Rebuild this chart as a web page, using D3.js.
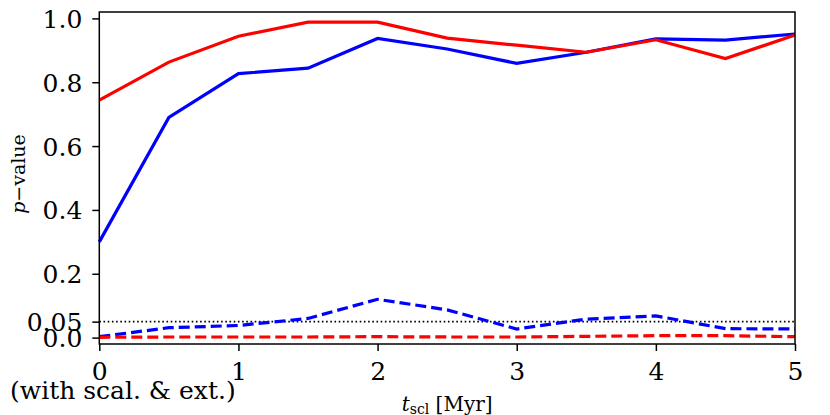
<!DOCTYPE html>
<html><head><meta charset="utf-8">
<script src="https://cdn.jsdelivr.net/npm/d3@7"></script>
<style>body{margin:0;background:#fff}text{font-family:"DejaVu Serif",serif;fill:#000}</style>
</head><body><svg id="c" width="830" height="415"></svg>
<script>
const tValues = [0, 0.5, 1, 1.5, 2, 2.5, 3, 3.5, 4, 4.5, 5];
const redSolid  = [0.744, 0.863, 0.944, 0.988, 0.988, 0.938, 0.916, 0.894, 0.933, 0.874, 0.948];
const blueSolid = [0.300, 0.690, 0.827, 0.844, 0.937, 0.904, 0.859, 0.894, 0.936, 0.932, 0.951];
const blueDashed = [0.003, 0.031, 0.038, 0.060, 0.120, 0.087, 0.027, 0.058, 0.068, 0.028, 0.027];
const redDashed  = [0.001, 0.002, 0.002, 0.002, 0.003, 0.002, 0.002, 0.004, 0.006, 0.006, 0.003];
const yTicks = [0.0, 0.05, 0.2, 0.4, 0.6, 0.8, 1.0];
const yTickLabels = ["0.0", "0.05", "0.2", "0.4", "0.6", "0.8", "1.0"];
const xTicks = [0, 1, 2, 3, 4, 5];
const threshold = 0.05;

const svg = d3.select("#c");
const L = 99.3, R = 795, T = 12, B = 344;
const x = d3.scaleLinear().domain([0, 5]).range([L, R]);
const y = d3.scaleLinear().domain([-0.02, 1.02]).range([B, T]);

const line = d3.line().x((d, i) => x(tValues[i])).y(d => y(d));

svg.append("line").attr("x1", x(0)).attr("x2", x(5)).attr("y1", y(threshold)).attr("y2", y(threshold))
  .attr("stroke", "#000").attr("stroke-width", 1.6).attr("stroke-dasharray", "1.6,2.6");

const series = [
  {v: blueDashed, c: "#0000ff", dash: "11,5"},
  {v: redDashed, c: "#ff0000", dash: "11,5"},
  {v: blueSolid, c: "#0000ff", dash: null},
  {v: redSolid, c: "#ff0000", dash: null}
];
series.forEach(s => {
  svg.append("path").attr("d", line(s.v)).attr("fill", "none")
    .attr("stroke", s.c).attr("stroke-width", 3.2)
    .attr("stroke-dasharray", s.dash);
});

svg.append("rect").attr("x", L).attr("y", T).attr("width", R - L).attr("height", B - T)
  .attr("fill", "none").attr("stroke", "#000").attr("stroke-width", 1.5);

const yAxis = d3.axisLeft(y).tickValues(yTicks).tickFormat((d, i) => yTickLabels[i]).tickSize(7).tickPadding(10);
const gy = svg.append("g").attr("transform", `translate(${L},0)`).call(yAxis);
const xAxis = d3.axisBottom(x).tickValues(xTicks).tickFormat(d3.format("d")).tickSize(7).tickPadding(10);
const gx = svg.append("g").attr("transform", `translate(0,${B})`).call(xAxis);
[gy, gx].forEach(g => {
  g.select(".domain").remove();
  g.selectAll(".tick line").attr("stroke", "#000").attr("stroke-width", 1.5);
  g.selectAll(".tick text").attr("font-size", 25).attr("font-family", "DejaVu Serif");
});
gy.selectAll(".tick text").attr("dy", "0.36em");
gx.selectAll(".tick text").attr("dy", "0.74em");

svg.append("text").attr("x", 10).attr("y", 399).attr("font-size", 25).text("(with scal. & ext.)");

const xl = svg.append("text").attr("x", (L + R) / 2).attr("y", 411).attr("text-anchor", "middle").attr("font-size", 20);
xl.append("tspan").attr("font-style", "italic").text("t");
xl.append("tspan").attr("font-size", 14).attr("dy", 3).text("scl");
xl.append("tspan").attr("dy", -3).text(" [Myr]");

const yl = svg.append("text").attr("transform", `translate(25,174) rotate(-90)`).attr("text-anchor", "middle").attr("font-size", 19);
yl.append("tspan").attr("font-style", "italic").text("p");
yl.append("tspan").text("−value");
</script></body></html>
